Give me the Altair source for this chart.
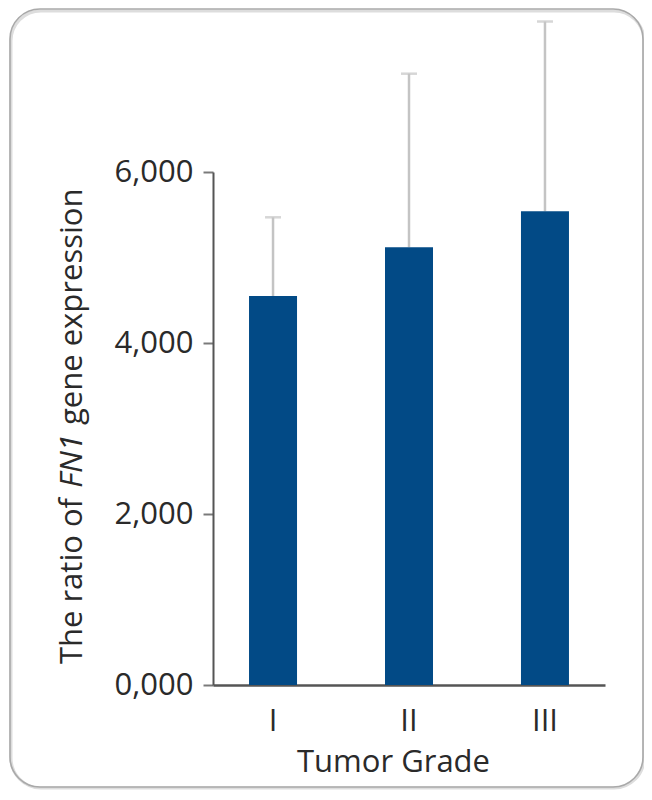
import altair as alt
import pandas as pd

# values (ratio, shown with comma decimals)
grades = ["I", "II", "III"]
ratio_mean = [4.55, 5.12, 5.54]
ratio_upper = [5.47, 7.15, 7.76]
y_ticks = [0, 2, 4, 6]

FONT = "Open Sans"
TXT = "#2a2a2a"
BLUE = "#024a86"
WHISKER = "#c4c4c4"

df = pd.DataFrame({"grade": grades, "mean": ratio_mean, "upper": ratio_upper})
one = pd.DataFrame({"k": [0]})

x_enc = alt.X(
    "grade:N",
    sort=grades,
    scale=alt.Scale(paddingInner=0.647, paddingOuter=0.265),
    axis=alt.Axis(
        title="Tumor Grade",
        titleFont=FONT, titleFontSize=31, titleFontWeight="normal", titleColor=TXT,
        titleX=180, titleY=86, titleAlign="center", titleBaseline="alphabetic",
        labelFont=FONT, labelFontSize=31, labelColor=TXT, labelAngle=0,
        labelBaseline="alphabetic", labelPadding=45,
        ticks=False, tickSize=0,
        domainColor="#555555", domainWidth=2.5,
    ),
)
y_scale = alt.Scale(domain=[0, 6], nice=False)
y_axis = alt.Axis(
    values=y_ticks,
    labelExpr="replace(format(datum.value, '.3f'), '.', ',')",
    labelFont=FONT, labelFontSize=31, labelColor=TXT, labelPadding=10,
    tickSize=10, tickWidth=2, tickColor="#7a7a7a",
    domainColor="#555555", domainWidth=2,
    grid=False, title=None,
)

base = alt.Chart(df)

whisker = base.mark_rule(color=WHISKER, strokeWidth=2.5).encode(
    x=x_enc,
    y=alt.Y("mean:Q", scale=y_scale, axis=y_axis),
    y2="upper:Q",
)
cap = base.mark_tick(color=WHISKER, size=16, thickness=2.5, orient="horizontal").encode(
    x="grade:N", y="upper:Q"
)
bars = base.mark_bar(color=BLUE, size=48).encode(x="grade:N", y="mean:Q")

# rounded frame around the figure
shadow = alt.Chart(one).mark_rect(
    fill=None, stroke="#dddddd", strokeWidth=3, cornerRadius=30
).encode(x=alt.value(-202), x2=alt.value(431), y=alt.value(-161), y2=alt.value(616))
frame = alt.Chart(one).mark_rect(
    fill=None, stroke="#a9a9a9", strokeWidth=1.6, cornerRadius=30
).encode(x=alt.value(-203), x2=alt.value(430), y=alt.value(-163), y2=alt.value(615))

# y title in three pieces so the gene name can be italic
def title_piece(text, y, align, style="normal"):
    return alt.Chart(one).mark_text(
        text=text, angle=270, align=align, baseline="alphabetic",
        font=FONT, fontSize=31, fontStyle=style, color=TXT,
    ).encode(x=alt.value(-131), y=alt.value(y))

t1 = title_piece("The ratio of", 326, "right")
t2 = title_piece("FN1", 289, "center", "italic")
t3 = title_piece("gene expression", 253, "left")

chart = (
    alt.layer(shadow, frame, whisker, cap, bars, t1, t2, t3)
    .properties(
        width=392, height=513,
        autosize=alt.AutoSizeParams(type="none"),
        padding={"left": 205, "top": 164, "right": 39, "bottom": 105},
        background="white",
    )
    .configure_view(stroke=None)
)

chart.save("out.html", embed_options={"renderer": "svg", "actions": False})
